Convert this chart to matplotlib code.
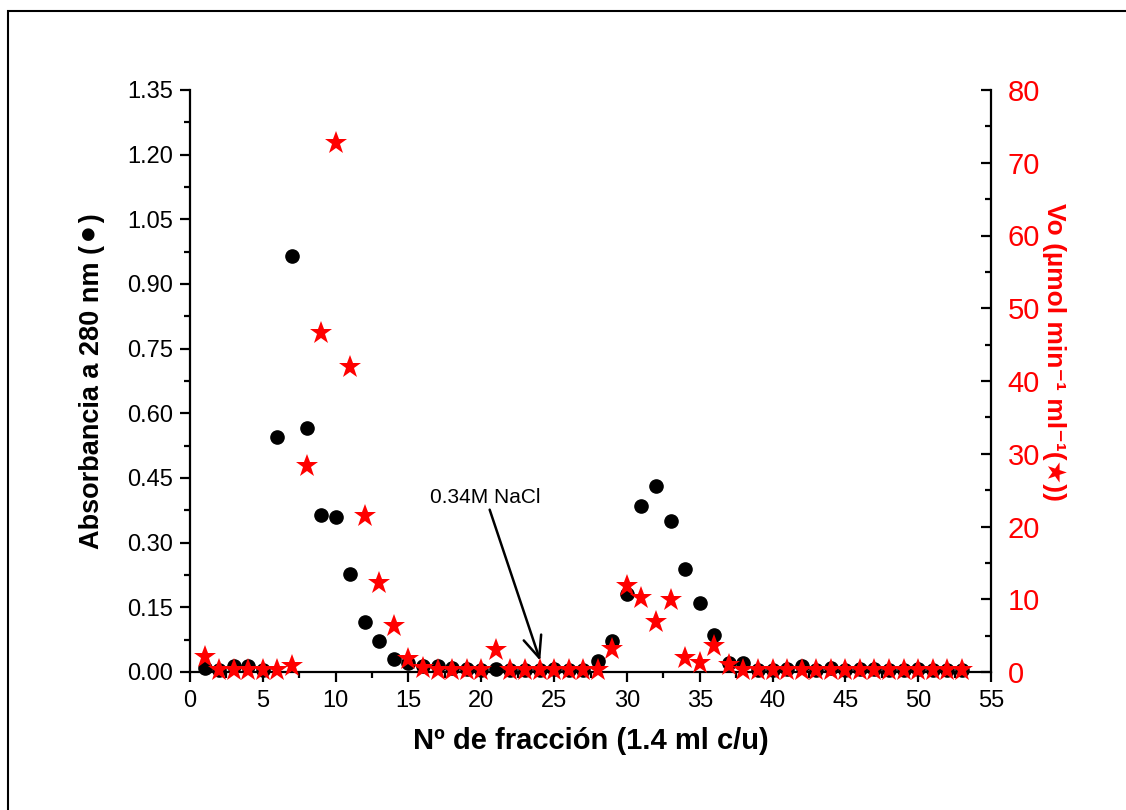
import matplotlib
matplotlib.use("Agg")
import matplotlib.pyplot as plt
from matplotlib.ticker import MultipleLocator, FormatStrFormatter
from matplotlib.patches import Rectangle

fractions = list(range(1, 54))
absorbance = [0.010, 0.005, 0.015, 0.015, 0.004, 0.545, 0.965, 0.565, 0.365, 0.360,
              0.228, 0.115, 0.072, 0.030, 0.020, 0.015, 0.013, 0.010, 0.008, 0.005,
              0.008, 0.004, 0.004, 0.004, 0.008, 0.004, 0.005, 0.025, 0.072, 0.180,
              0.385, 0.432, 0.350, 0.240, 0.160, 0.085, 0.020, 0.022, 0.004, 0.004,
              0.008, 0.015, 0.004, 0.010, 0.004, 0.008, 0.008, 0.004, 0.004, 0.008,
              0.004, 0.004, 0.004]
vo = [2.0, 0.3, 0.3, 0.3, 0.3, 0.3, 0.8, 28.3, 46.6, 72.7,
      41.9, 21.4, 12.2, 6.3, 1.8, 0.5, 0.3, 0.3, 0.3, 0.3,
      3.0, 0.3, 0.3, 0.3, 0.3, 0.3, 0.3, 0.3, 3.2, 11.8,
      10.2, 6.9, 9.9, 1.9, 1.2, 3.6, 1.0, 0.3, 0.3, 0.3,
      0.3, 0.3, 0.3, 0.3, 0.3, 0.3, 0.3, 0.3, 0.3, 0.3,
      0.3, 0.3, 0.3]

plt.rcParams['font.family'] = ['Liberation Sans', 'DejaVu Sans']

fig = plt.figure(figsize=(11.26, 8.10), dpi=100)
fig.patches.append(Rectangle((8/1126, -0.01), 1.2, 1 - 11/810 + 0.01,
                             transform=fig.transFigure, fill=False,
                             edgecolor='black', linewidth=1.5))
ax = fig.add_axes([190/1126, 1 - 672/810, (991 - 190)/1126, (672 - 90)/810])
ax2 = ax.twinx()

ax.plot(fractions, absorbance, 'o', color='black', markersize=9.5, zorder=3, clip_on=False)
ax2.plot(fractions, vo, '*', color='red', markersize=17, markeredgewidth=0, zorder=4, clip_on=False)

ax.set_xlim(0, 55)
ax.set_ylim(0, 1.35)
ax2.set_ylim(0, 80)

ax.xaxis.set_major_locator(MultipleLocator(5))
ax.xaxis.set_minor_locator(MultipleLocator(2.5))
ax.yaxis.set_major_locator(MultipleLocator(0.15))
ax.yaxis.set_minor_locator(MultipleLocator(0.075))
ax.yaxis.set_major_formatter(FormatStrFormatter('%.2f'))
ax2.yaxis.set_major_locator(MultipleLocator(10))
ax2.yaxis.set_minor_locator(MultipleLocator(5))

ax.spines['top'].set_visible(False)
ax2.spines['top'].set_visible(False)
for s in ['left', 'bottom']:
    ax.spines[s].set_linewidth(1.6)
ax2.spines['right'].set_linewidth(1.6)
ax2.spines['left'].set_visible(False)
ax2.spines['bottom'].set_visible(False)
ax.spines['right'].set_visible(False)

ax.tick_params(axis='both', which='major', direction='out', length=7, width=1.6, labelsize=17)
ax.tick_params(axis='both', which='minor', direction='out', length=4, width=1.6)
ax.tick_params(axis='x', pad=6)
ax.tick_params(axis='y', pad=5)
ax2.tick_params(axis='y', which='major', direction='in', length=7, width=1.6,
                labelsize=21, labelcolor='red', pad=12)
ax2.tick_params(axis='y', which='minor', direction='in', length=4, width=1.6)

ax.set_xlabel('Nº de fracción (1.4 ml c/u)', fontsize=21, fontweight='bold', labelpad=11)
ax.set_ylabel('Absorbancia a 280 nm (⚫)', fontsize=19.5, fontweight='bold', labelpad=16)
ax2.set_ylabel('Vo (µmol min⁻¹ ml⁻¹(★))', fontsize=19,
               fontweight='bold', color='red', rotation=270, ha='center', va='center')
ax2.yaxis.set_label_coords(1 + (1054 - 991) / 801, 0.55)

ax.annotate('0.34M NaCl', xy=(24.05, 0.026), xytext=(16.5, 0.405),
            fontsize=15, ha='left', va='center',
            arrowprops=dict(arrowstyle='->,head_length=0.7,head_width=0.3',
                            color='black', lw=1.8,
                            mutation_scale=22, shrinkA=0, shrinkB=0))

fig.savefig('out.png', dpi=100)
